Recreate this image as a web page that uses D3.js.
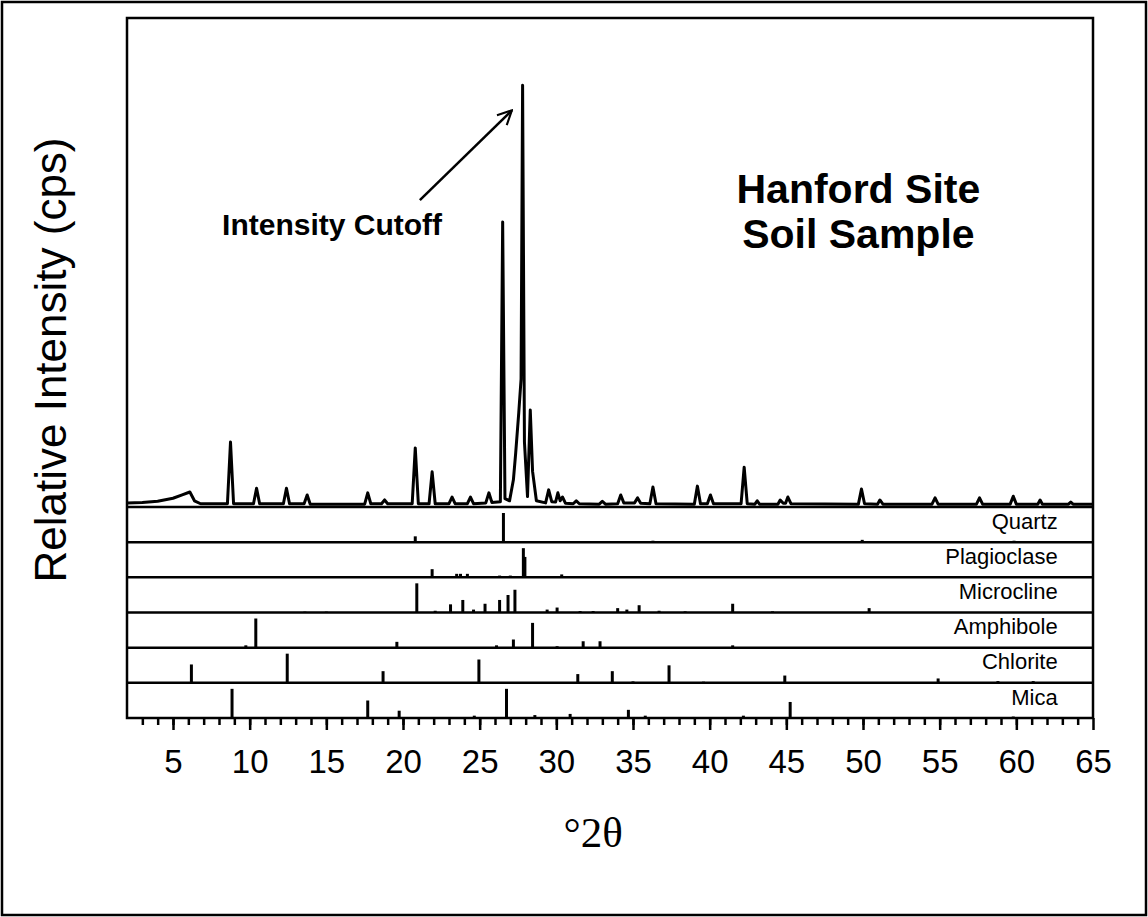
<!DOCTYPE html>
<html>

<head>
    <meta charset="utf-8">
    <title>Hanford Site Soil Sample - XRD pattern</title>
    <script src="https://d3js.org/d3.v7.min.js" charset="utf-8"></script>
    <style>
        html,
        body {
            margin: 0;
            padding: 0;
            background: #fff;
        }

        svg {
            display: block;
        }
    </style>
</head>

<body>
    <script>
        // Soil sample scan (degrees 2-theta, relative cps, tallest peak = 100)
        const scanTheta = [2.0, 3.0, 4.0, 5.0, 5.6, 6.1, 6.4, 6.8,
            8.55, 8.75, 8.95, 10.25, 10.45, 10.65, 12.2, 12.4, 12.6, 13.55, 13.75, 13.95,
            17.5, 17.7, 17.9, 18.6, 18.8, 19.0, 20.6, 20.8, 21.0, 21.7, 21.9, 22.1,
            23.0, 23.2, 23.4, 24.2, 24.4, 24.6, 25.4, 25.6, 25.8,
            26.35, 26.5, 26.65, 26.95, 27.2, 27.35, 27.55, 27.7, 27.8, 27.92, 28.12, 28.3, 28.45, 28.7,
            29.3, 29.5, 29.7, 29.95, 30.1, 30.25, 30.4, 30.6, 31.1, 31.3, 31.5, 32.8, 33.0, 33.2,
            34.0, 34.2, 34.4, 35.1, 35.3, 35.5, 36.1, 36.3, 36.5, 39.0, 39.2, 39.4, 39.85, 40.05, 40.25,
            42.05, 42.25, 42.45, 42.95, 43.1, 43.25, 44.45, 44.6, 44.8, 44.95, 45.1, 45.3,
            49.7, 49.9, 50.1, 50.95, 51.1, 51.3, 54.5, 54.7, 54.9, 57.4, 57.6, 57.8,
            59.6, 59.8, 60.0, 61.4, 61.55, 61.7, 63.4, 63.55, 63.7, 65.0];
        const scanCps = [0.5, 0.6, 0.9, 1.6, 2.4, 3.1, 1.0, 0.3,
            0.3, 15, 0.3, 0.3, 4.0, 0.3, 0.3, 4.0, 0.3, 0.3, 2.4, 0.2,
            0.2, 2.9, 0.3, 0.3, 1.2, 0.3, 0.3, 13.6, 0.3, 0.3, 7.9, 0.3,
            0.3, 1.9, 0.3, 0.3, 1.9, 0.3, 0.5, 2.9, 0.6,
            0.8, 67.4, 1.5, 1.0, 6, 12.4, 22, 30, 100, 15, 2, 22.6, 8, 1.0,
            0.5, 3.6, 0.8, 0.7, 2.9, 1.0, 1.9, 0.4, 0.3, 1.0, 0.3, 0.2, 0.9, 0.2,
            0.3, 2.4, 0.5, 0.5, 1.7, 0.4, 0.3, 4.3, 0.3, 0.2, 4.5, 0.3, 0.3, 2.4, 0.3,
            0.3, 9.0, 0.3, 0.2, 1.0, 0.2, 0.2, 1.2, 0.4, 0.4, 1.9, 0.3,
            0.2, 3.8, 0.3, 0.2, 1.2, 0.2, 0.2, 1.7, 0.2, 0.2, 1.7, 0.2,
            0.2, 2.1, 0.2, 0.2, 1.2, 0.2, 0.2, 0.7, 0.2, 0.2];

        // Reference stick patterns (position, relative intensity)
        const minerals = ["Quartz", "Plagioclase", "Microcline", "Amphibole", "Chlorite", "Mica"];
        const quartzTheta = [20.8, 26.55, 36.3, 39.4, 42.4, 49.95, 59.85];
        const quartzRel = [20, 100, 5, 4, 4, 8, 5];
        const plagioclaseTheta = [21.9, 23.5, 23.75, 24.2, 26.3, 27.0, 27.85, 27.95, 30.35, 34.0, 36.3, 44.7];
        const plagioclaseRel = [28, 12, 12, 12, 6, 6, 100, 70, 10, 4, 3, 3];
        const microclineTheta = [13.6, 15.0, 20.9, 22.1, 23.1, 23.9, 24.6, 25.35, 26.3, 26.85, 27.3, 29.4,
            30.05, 31.55, 32.4, 34.0, 34.6, 35.4, 36.7, 38.4, 41.5, 44.1, 50.4];
        const microclineRel = [3, 3, 100, 6, 28, 43, 10, 30, 43, 60, 78, 10, 17, 5, 5, 15, 10, 25, 6, 4, 30, 4, 15];
        const amphiboleTheta = [9.75, 10.4, 19.6, 26.1, 27.2, 28.45, 30.05, 31.75, 32.85, 41.5];
        const amphiboleRel = [8, 100, 20, 8, 28, 85, 5, 22, 22, 8];
        const chloriteTheta = [6.2, 12.45, 18.7, 24.95, 31.4, 33.65, 35.0, 37.35, 39.6, 44.9, 54.9, 58.8, 61.1];
        const chloriteRel = [63, 100, 40, 80, 30, 40, 5, 60, 4, 25, 15, 6, 6];
        const micaTheta = [8.85, 17.7, 19.75, 22.9, 24.65, 26.75, 28.6, 30.9, 34.7, 35.8, 42.2, 45.25, 59.8];
        const micaRel = [100, 60, 25, 3, 8, 100, 10, 14, 28, 8, 8, 55, 5];

        const xMajorTicks = [5, 10, 15, 20, 25, 30, 35, 40, 45, 50, 55, 60, 65];

        // Annotation anchors in data units
        const cutoffLabel = [8.2, 64.3];
        const cutoffArrow = [[21.1, 72.6], [27.1, 94.0]];
        const titleLines = ["Hanford Site", "Soil Sample"];

        // Setting up dimensions
        const width = 1148;
        const height = 917;
        const frameLeft = 127;
        const frameRight = 1093;
        const frameTop = 18;
        const axisY = 718;
        const patternBottom = 507;
        const panelH = (axisY - patternBottom) / minerals.length;

        const svg = d3.select("body").append("svg")
            .attr("width", width)
            .attr("height", height);

        svg.append("rect")
            .attr("width", width)
            .attr("height", height)
            .attr("fill", "#fff");

        // outer border of the figure
        svg.append("rect")
            .attr("x", 2).attr("y", 2)
            .attr("width", width - 4).attr("height", height - 4)
            .attr("fill", "none")
            .attr("stroke", "#000")
            .attr("stroke-width", 2.5);

        // Scales
        const x = d3.scaleLinear().domain([2, 65]).range([frameLeft, frameRight]);
        const y = d3.scaleLinear().domain([0, 116]).range([patternBottom - 2, frameTop]);
        const stickY = d3.scaleLinear().domain([0, 100]).range([0, panelH - 6]);

        // Measured pattern
        const scan = scanTheta.map((t, i) => [t, scanCps[i]]);
        const line = d3.line()
            .x(d => x(d[0]))
            .y(d => y(d[1]));

        svg.append("path")
            .datum(scan)
            .attr("d", line)
            .attr("fill", "none")
            .attr("stroke", "#000")
            .attr("stroke-width", 3)
            .attr("stroke-linejoin", "round");

        // Stick panels
        const stickSets = [
            [quartzTheta, quartzRel],
            [plagioclaseTheta, plagioclaseRel],
            [microclineTheta, microclineRel],
            [amphiboleTheta, amphiboleRel],
            [chloriteTheta, chloriteRel],
            [micaTheta, micaRel]
        ];

        minerals.forEach(function (name, i) {
            const top = patternBottom + i * panelH;
            const bottom = top + panelH;
            const g = svg.append("g");
            const sticks = stickSets[i][0].map((t, j) => [t, stickSets[i][1][j]]);

            g.selectAll("line.stick")
                .data(sticks)
                .enter().append("line")
                .attr("class", "stick")
                .attr("x1", d => x(d[0]))
                .attr("x2", d => x(d[0]))
                .attr("y1", bottom)
                .attr("y2", d => bottom - stickY(d[1]))
                .attr("stroke", "#000")
                .attr("stroke-width", 3);

            // separator line at top of each panel
            g.append("line")
                .attr("x1", frameLeft).attr("x2", frameRight)
                .attr("y1", top).attr("y2", top)
                .attr("stroke", "#000")
                .attr("stroke-width", 2.5);

            g.append("text")
                .attr("x", x(62.7))
                .attr("y", top + panelH * 0.62)
                .attr("text-anchor", "end")
                .attr("font-family", "'Liberation Sans', Arial, sans-serif")
                .attr("font-size", 22)
                .text(name);
        });

        // Plot frame
        svg.append("rect")
            .attr("x", frameLeft).attr("y", frameTop)
            .attr("width", frameRight - frameLeft)
            .attr("height", axisY - frameTop)
            .attr("fill", "none")
            .attr("stroke", "#000")
            .attr("stroke-width", 2.5);

        // X axis: minor ticks every degree, major every 5 with labels
        const minorAxis = d3.axisBottom(x)
            .tickValues(d3.range(3, 65))
            .tickSize(7)
            .tickFormat("");
        const majorAxis = d3.axisBottom(x)
            .tickValues(xMajorTicks)
            .tickSize(12)
            .tickPadding(20);

        svg.append("g")
            .attr("transform", `translate(0,${axisY})`)
            .call(minorAxis)
            .call(g => g.select(".domain").remove())
            .call(g => g.selectAll("line").attr("stroke-width", 2.5));

        svg.append("g")
            .attr("transform", `translate(0,${axisY})`)
            .call(majorAxis)
            .call(g => g.select(".domain").remove())
            .call(g => g.selectAll("line").attr("stroke-width", 2.5))
            .call(g => g.selectAll("text")
                .attr("font-family", "'Liberation Sans', Arial, sans-serif")
                .attr("font-size", 33)
                .attr("fill", "#000"));

        // Axis titles
        svg.append("text")
            .attr("x", x(32.4))
            .attr("y", 847)
            .attr("text-anchor", "middle")
            .attr("font-family", "'Liberation Serif', 'Times New Roman', serif")
            .attr("font-size", 43)
            .text("°2θ");

        svg.append("text")
            .attr("transform", "translate(66,360) rotate(-90)")
            .attr("text-anchor", "middle")
            .attr("font-family", "'Liberation Sans', Arial, sans-serif")
            .attr("font-size", 44)
            .text("Relative Intensity (cps)");

        // Annotations
        svg.append("text")
            .attr("x", x(cutoffLabel[0]))
            .attr("y", y(cutoffLabel[1]))
            .attr("font-family", "'Liberation Sans', Arial, sans-serif")
            .attr("font-weight", "bold")
            .attr("font-size", 30)
            .text("Intensity Cutoff");

        svg.append("defs").append("marker")
            .attr("id", "head")
            .attr("viewBox", "0 0 10 10")
            .attr("refX", 9).attr("refY", 5)
            .attr("markerWidth", 7).attr("markerHeight", 7)
            .attr("markerUnits", "strokeWidth")
            .attr("orient", "auto")
            .append("path")
            .attr("d", "M1,1 L9,5 L1,9")
            .attr("fill", "none")
            .attr("stroke", "#000")
            .attr("stroke-width", 1.2);

        svg.append("line")
            .attr("x1", x(cutoffArrow[0][0])).attr("y1", y(cutoffArrow[0][1]))
            .attr("x2", x(cutoffArrow[1][0])).attr("y2", y(cutoffArrow[1][1]))
            .attr("stroke", "#000")
            .attr("stroke-width", 2.5)
            .attr("marker-end", "url(#head)");

        svg.selectAll("text.title")
            .data(titleLines)
            .enter().append("text")
            .attr("class", "title")
            .attr("x", x(49.7))
            .attr("y", (d, i) => y(71.9) + i * 45)
            .attr("text-anchor", "middle")
            .attr("font-family", "'Liberation Sans', Arial, sans-serif")
            .attr("font-weight", "bold")
            .attr("font-size", 41)
            .text(d => d);
    </script>
</body>

</html>
